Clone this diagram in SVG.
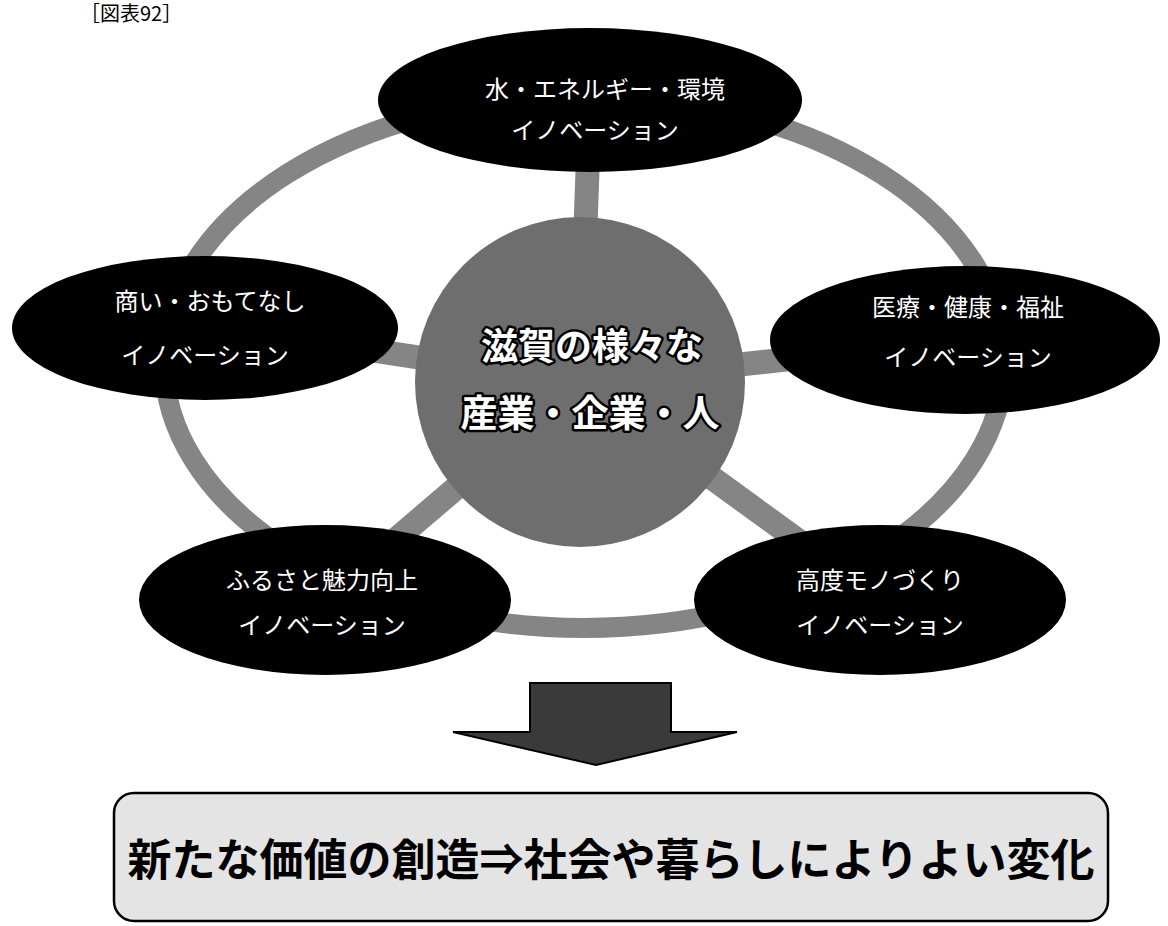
<svg xmlns="http://www.w3.org/2000/svg" width="1168" height="926" viewBox="0 0 1168 926">
<style>
.node{fill:#000}
.lbl{fill:#fff;font-family:"Noto Sans CJK JP","Noto Sans CJK SC",sans-serif;font-size:24px;text-anchor:middle}
.ctr{fill:#fff;stroke:#000;stroke-width:5;paint-order:stroke;stroke-linejoin:round;font-family:"Noto Sans CJK JP",sans-serif;font-weight:bold;font-size:37px;text-anchor:middle}
.spoke{stroke:#858585;stroke-width:24;fill:none}
</style>
<rect width="1168" height="926" fill="#fff"/>
<text x="80" y="21" font-family="Noto Sans CJK JP,sans-serif" font-size="20" fill="#000">［図表92］</text>
<g id="connectors">
<ellipse cx="584" cy="362" rx="420" ry="266" fill="none" stroke="#858585" stroke-width="20"/>
<line class="spoke" x1="580" y1="382" x2="590" y2="100"/>
<line class="spoke" x1="580" y1="382" x2="205" y2="325"/>
<line class="spoke" x1="580" y1="382" x2="965" y2="340"/>
<line class="spoke" x1="580" y1="382" x2="325" y2="600"/>
<line class="spoke" x1="580" y1="382" x2="880" y2="600"/>
</g>
<g id="center">
<circle cx="580" cy="382" r="165" fill="#6e6e6e"/>
<text class="ctr" x="592" y="360">滋賀の様々な</text>
<text class="ctr" x="590" y="427">産業・企業・人</text>
</g>
<g id="top">
<ellipse class="node" cx="590" cy="100" rx="212" ry="72"/>
<text class="lbl" x="605" y="98">水・エネルギー・環境</text>
<text class="lbl" x="595" y="139">イノベーション</text>
</g>
<g id="left">
<ellipse class="node" cx="205" cy="328" rx="193" ry="72"/>
<text class="lbl" x="210" y="310">商い・おもてなし</text>
<text class="lbl" x="205" y="364">イノベーション</text>
</g>
<g id="right">
<ellipse class="node" cx="965" cy="340" rx="195" ry="74"/>
<text class="lbl" x="968" y="316">医療・健康・福祉</text>
<text class="lbl" x="968" y="366">イノベーション</text>
</g>
<g id="bottomleft">
<ellipse class="node" cx="325" cy="600" rx="186" ry="75"/>
<text class="lbl" x="322" y="589">ふるさと魅力向上</text>
<text class="lbl" x="322" y="634">イノベーション</text>
</g>
<g id="bottomright">
<ellipse class="node" cx="880" cy="600" rx="186" ry="75"/>
<text class="lbl" x="880" y="589">高度モノづくり</text>
<text class="lbl" x="880" y="634">イノベーション</text>
</g>
<g id="arrow">
<polygon points="530,683 671,683 671,732 737,732 596,765 453,732 530,732" fill="#3a3a3a" stroke="#000" stroke-width="2"/>
</g>
<g id="result">
<rect x="114" y="793" width="994" height="128" rx="20" fill="#e4e4e4" stroke="#000" stroke-width="2.5"/>
<text x="611" y="876" font-family="Noto Sans CJK JP,sans-serif" font-weight="bold" font-size="44" text-anchor="middle" fill="#000">新たな価値の創造⇒社会や暮らしによりよい変化</text>
</g>
</svg>
